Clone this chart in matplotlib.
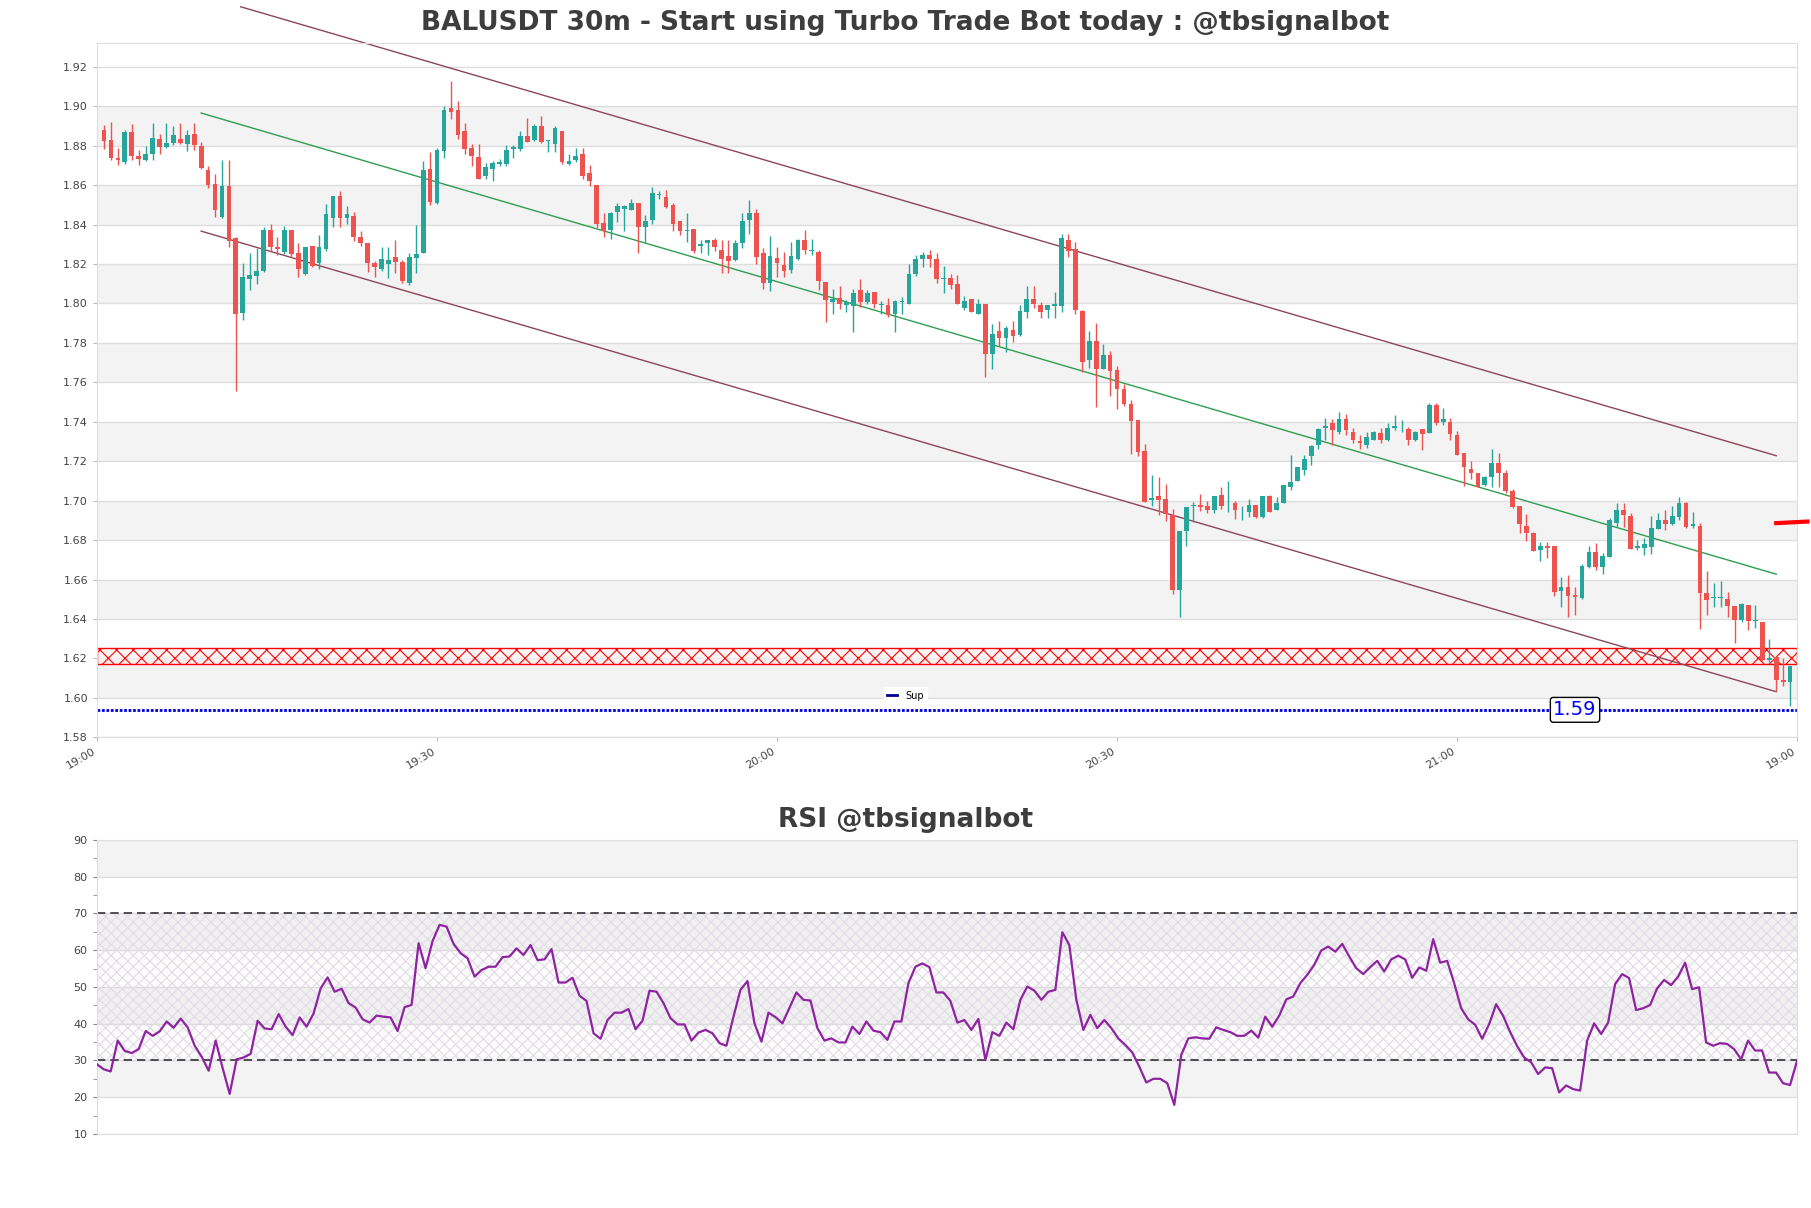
import numpy as np
import matplotlib
matplotlib.use("Agg")
import matplotlib.pyplot as plt
from matplotlib.lines import Line2D

# ---- candle data (30m) ----
opens = [
    1.8878, 1.8830, 1.8740, 1.8720, 1.8870, 1.8746, 1.8730, 1.8760, 1.8836, 1.8793,
    1.8813, 1.8836, 1.8807, 1.8858, 1.8797, 1.8678, 1.8607, 1.8441, 1.8598, 1.8331,
    1.7954, 1.8124, 1.8141, 1.8163, 1.8373, 1.8288, 1.8263, 1.8373, 1.8256, 1.8149,
    1.8292, 1.8203, 1.8276, 1.8432, 1.8547, 1.8432, 1.8446, 1.8339, 1.8308, 1.8205,
    1.8175, 1.8198, 1.8237, 1.8212, 1.8105, 1.8229, 1.8258, 1.8681, 1.8512, 1.8776,
    1.8992, 1.8983, 1.8873, 1.8788, 1.8741, 1.8647, 1.8681, 1.8708, 1.8708, 1.8786,
    1.8783, 1.8851, 1.8827, 1.8902, 1.8825, 1.8810, 1.8873, 1.8707, 1.8729, 1.8759,
    1.8661, 1.8602, 1.8410, 1.8371, 1.8466, 1.8481, 1.8475, 1.8508, 1.8386, 1.8424,
    1.8549, 1.8541, 1.8499, 1.8417, 1.8366, 1.8377, 1.8290, 1.8305, 1.8322, 1.8270,
    1.8240, 1.8223, 1.8307, 1.8422, 1.8460, 1.8257, 1.8104, 1.8231, 1.8197, 1.8172,
    1.8224, 1.8321, 1.8267, 1.8262, 1.8109, 1.8008, 1.8028, 1.7991, 1.7987, 1.8067,
    1.8008, 1.8057, 1.7991, 1.7991, 1.7949, 1.8008, 1.7999, 1.8152, 1.8228, 1.8248,
    1.8228, 1.8126, 1.8128, 1.8097, 1.7977, 1.8021, 1.7948, 1.7999, 1.7742, 1.7859,
    1.7826, 1.7867, 1.7842, 1.7957, 1.8024, 1.7991, 1.7965, 1.7985, 1.7985, 1.8320,
    1.8278, 1.7960, 1.7711, 1.7808, 1.7669, 1.7737, 1.7661, 1.7567, 1.7488, 1.7407,
    1.7251, 1.7004, 1.7026, 1.7006, 1.6925, 1.6547, 1.6845, 1.6972, 1.6979, 1.6975,
    1.6953, 1.7028, 1.6986, 1.6990, 1.6966, 1.6941, 1.6980, 1.6917, 1.7022, 1.6951,
    1.6988, 1.7068, 1.7098, 1.7158, 1.7229, 1.7280, 1.7369, 1.7392, 1.7347, 1.7412,
    1.7349, 1.7305, 1.7281, 1.7310, 1.7341, 1.7310, 1.7369, 1.7367, 1.7361, 1.7310,
    1.7361, 1.7344, 1.7483, 1.7398, 1.7400, 1.7331, 1.7242, 1.7161, 1.7141, 1.7077,
    1.7119, 1.7192, 1.7141, 1.7047, 1.6973, 1.6872, 1.6838, 1.6750, 1.6770, 1.6770,
    1.6544, 1.6561, 1.6522, 1.6505, 1.6666, 1.6742, 1.6666, 1.6716, 1.6889, 1.6953,
    1.6922, 1.6759, 1.6759, 1.6767, 1.6857, 1.6902, 1.6880, 1.6919, 1.6990, 1.6872,
    1.6872, 1.6531, 1.6507, 1.6508, 1.6502, 1.6467, 1.6396, 1.6472, 1.6391, 1.6382,
    1.6193, 1.6205, 1.6092, 1.6078,
]
highs = [
    1.8907, 1.8920, 1.8790, 1.8880, 1.8910, 1.8780, 1.8800, 1.8917, 1.8860, 1.8917,
    1.8900, 1.8917, 1.8878, 1.8918, 1.8819, 1.8695, 1.8658, 1.8729, 1.8729, 1.8339,
    1.8203, 1.8254, 1.8280, 1.8386, 1.8403, 1.8339, 1.8395, 1.8373, 1.8307, 1.8288,
    1.8292, 1.8349, 1.8505, 1.8547, 1.8570, 1.8497, 1.8463, 1.8370, 1.8308, 1.8217,
    1.8285, 1.8288, 1.8322, 1.8220, 1.8258, 1.8398, 1.8725, 1.8770, 1.8788, 1.9003,
    1.9130, 1.9025, 1.8915, 1.8810, 1.8808, 1.8712, 1.8725, 1.8734, 1.8805, 1.8805,
    1.8873, 1.8941, 1.8912, 1.8951, 1.8831, 1.8898, 1.8873, 1.8758, 1.8788, 1.8788,
    1.8703, 1.8602, 1.8458, 1.8466, 1.8508, 1.8500, 1.8529, 1.8508, 1.8447, 1.8590,
    1.8571, 1.8578, 1.8510, 1.8417, 1.8460, 1.8377, 1.8320, 1.8322, 1.8333, 1.8320,
    1.8320, 1.8320, 1.8460, 1.8527, 1.8477, 1.8279, 1.8341, 1.8287, 1.8262, 1.8312,
    1.8329, 1.8372, 1.8329, 1.8270, 1.8109, 1.8076, 1.8088, 1.8016, 1.8076, 1.8126,
    1.8067, 1.8057, 1.8011, 1.8030, 1.8020, 1.8033, 1.8199, 1.8248, 1.8262, 1.8270,
    1.8257, 1.8189, 1.8150, 1.8145, 1.8036, 1.8021, 1.8021, 1.7999, 1.7897, 1.7910,
    1.7884, 1.7910, 1.7991, 1.8087, 1.8087, 1.8008, 1.7991, 1.8058, 1.8354, 1.8354,
    1.8312, 1.7968, 1.7860, 1.7901, 1.7796, 1.7759, 1.7681, 1.7593, 1.7508, 1.7407,
    1.7288, 1.7128, 1.7120, 1.7086, 1.6958, 1.6848, 1.6970, 1.6992, 1.7035, 1.6996,
    1.7026, 1.7067, 1.7100, 1.7000, 1.6975, 1.7008, 1.6980, 1.7025, 1.7031, 1.7019,
    1.7081, 1.7234, 1.7171, 1.7234, 1.7280, 1.7369, 1.7420, 1.7412, 1.7449, 1.7442,
    1.7369, 1.7331, 1.7347, 1.7353, 1.7369, 1.7395, 1.7432, 1.7408, 1.7375, 1.7353,
    1.7361, 1.7493, 1.7493, 1.7471, 1.7420, 1.7353, 1.7242, 1.7200, 1.7141, 1.7125,
    1.7263, 1.7242, 1.7158, 1.7059, 1.6973, 1.6931, 1.6843, 1.6792, 1.6792, 1.6770,
    1.6612, 1.6624, 1.6561, 1.6678, 1.6770, 1.6787, 1.6733, 1.6911, 1.6986, 1.6986,
    1.6936, 1.6801, 1.6809, 1.6922, 1.6939, 1.6953, 1.6973, 1.7017, 1.6995, 1.6944,
    1.6889, 1.6641, 1.6581, 1.6593, 1.6539, 1.6467, 1.6480, 1.6472, 1.6472, 1.6387,
    1.6298, 1.6205, 1.6202, 1.6160,
]
lows = [
    1.8785, 1.8730, 1.8700, 1.8710, 1.8730, 1.8700, 1.8725, 1.8730, 1.8760, 1.8790,
    1.8805, 1.8807, 1.8773, 1.8780, 1.8680, 1.8586, 1.8441, 1.8434, 1.8288, 1.7556,
    1.7915, 1.8070, 1.8098, 1.8158, 1.8260, 1.8247, 1.8251, 1.8234, 1.8132, 1.8146,
    1.8183, 1.8175, 1.8268, 1.8390, 1.8390, 1.8403, 1.8315, 1.8293, 1.8161, 1.8132,
    1.8166, 1.8127, 1.8153, 1.8105, 1.8093, 1.8153, 1.8258, 1.8500, 1.8505, 1.8737,
    1.8936, 1.8834, 1.8759, 1.8698, 1.8631, 1.8631, 1.8619, 1.8695, 1.8698, 1.8737,
    1.8776, 1.8817, 1.8822, 1.8814, 1.8766, 1.8766, 1.8708, 1.8702, 1.8720, 1.8631,
    1.8597, 1.8381, 1.8339, 1.8327, 1.8415, 1.8368, 1.8475, 1.8258, 1.8308, 1.8403,
    1.8532, 1.8485, 1.8368, 1.8346, 1.8312, 1.8257, 1.8257, 1.8245, 1.8267, 1.8155,
    1.8155, 1.8216, 1.8279, 1.8351, 1.8199, 1.8075, 1.8063, 1.8135, 1.8135, 1.8155,
    1.8222, 1.8253, 1.8245, 1.8067, 1.7906, 1.7945, 1.7974, 1.7957, 1.7856, 1.7982,
    1.7996, 1.7979, 1.7949, 1.7932, 1.7856, 1.7949, 1.7999, 1.8138, 1.8185, 1.8185,
    1.8104, 1.8053, 1.8075, 1.7999, 1.7965, 1.7957, 1.7945, 1.7627, 1.7669, 1.7784,
    1.7754, 1.7804, 1.7833, 1.7928, 1.7979, 1.7926, 1.7926, 1.7926, 1.7957, 1.8236,
    1.7948, 1.7652, 1.7674, 1.7474, 1.7669, 1.7533, 1.7466, 1.7482, 1.7238, 1.7225,
    1.6992, 1.6975, 1.6926, 1.6896, 1.6527, 1.6412, 1.6772, 1.6891, 1.6947, 1.6936,
    1.6936, 1.6958, 1.6940, 1.6907, 1.6900, 1.6917, 1.6912, 1.6912, 1.6941, 1.6951,
    1.6988, 1.7056, 1.7098, 1.7129, 1.7183, 1.7263, 1.7310, 1.7281, 1.7336, 1.7331,
    1.7293, 1.7263, 1.7268, 1.7310, 1.7293, 1.7302, 1.7358, 1.7347, 1.7280, 1.7302,
    1.7259, 1.7341, 1.7386, 1.7386, 1.7310, 1.7231, 1.7076, 1.7110, 1.7069, 1.7076,
    1.7069, 1.7069, 1.7039, 1.6963, 1.6838, 1.6797, 1.6747, 1.6696, 1.6708, 1.6517,
    1.6463, 1.6409, 1.6418, 1.6500, 1.6657, 1.6646, 1.6629, 1.6716, 1.6868, 1.6868,
    1.6755, 1.6750, 1.6725, 1.6728, 1.6855, 1.6851, 1.6877, 1.6902, 1.6860, 1.6860,
    1.6349, 1.6418, 1.6463, 1.6460, 1.6409, 1.6278, 1.6387, 1.6345, 1.6354, 1.6185,
    1.6180, 1.6033, 1.6058, 1.5957,
]
closes = [
    1.8824, 1.8740, 1.8730, 1.8870, 1.8750, 1.8733, 1.8756, 1.8837, 1.8794, 1.8815,
    1.8857, 1.8813, 1.8856, 1.8805, 1.8686, 1.8603, 1.8475, 1.8598, 1.8315, 1.7946,
    1.8136, 1.8146, 1.8166, 1.8373, 1.8285, 1.8275, 1.8373, 1.8251, 1.8175, 1.8288,
    1.8188, 1.8288, 1.8454, 1.8547, 1.8432, 1.8454, 1.8336, 1.8305, 1.8205, 1.8183,
    1.8225, 1.8220, 1.8208, 1.8115, 1.8237, 1.8249, 1.8678, 1.8517, 1.8780, 1.8983,
    1.8970, 1.8856, 1.8783, 1.8746, 1.8631, 1.8692, 1.8712, 1.8717, 1.8780, 1.8793,
    1.8851, 1.8817, 1.8902, 1.8817, 1.8831, 1.8890, 1.8720, 1.8724, 1.8749, 1.8647,
    1.8619, 1.8403, 1.8369, 1.8458, 1.8492, 1.8492, 1.8512, 1.8386, 1.8417, 1.8560,
    1.8554, 1.8490, 1.8405, 1.8368, 1.8372, 1.8267, 1.8300, 1.8320, 1.8287, 1.8224,
    1.8216, 1.8309, 1.8417, 1.8460, 1.8236, 1.8104, 1.8240, 1.8206, 1.8165, 1.8240,
    1.8321, 1.8273, 1.8270, 1.8114, 1.8016, 1.8025, 1.7996, 1.8008, 1.8055, 1.8008,
    1.8055, 1.7996, 1.7999, 1.7943, 1.8011, 1.8011, 1.8148, 1.8228, 1.8248, 1.8228,
    1.8126, 1.8130, 1.8092, 1.7999, 1.8011, 1.7957, 1.7999, 1.7742, 1.7847, 1.7825,
    1.7877, 1.7835, 1.7960, 1.8021, 1.7996, 1.7957, 1.7991, 1.7999, 1.8332, 1.8266,
    1.7965, 1.7703, 1.7808, 1.7669, 1.7737, 1.7657, 1.7564, 1.7491, 1.7402, 1.7246,
    1.6992, 1.7014, 1.7004, 1.6930, 1.6547, 1.6848, 1.6970, 1.6979, 1.6967, 1.6955,
    1.7026, 1.6975, 1.6990, 1.6952, 1.6970, 1.6980, 1.6917, 1.7022, 1.6941, 1.6988,
    1.7081, 1.7093, 1.7171, 1.7212, 1.7276, 1.7361, 1.7381, 1.7356, 1.7412, 1.7358,
    1.7310, 1.7293, 1.7324, 1.7349, 1.7310, 1.7369, 1.7378, 1.7371, 1.7310, 1.7349,
    1.7339, 1.7483, 1.7395, 1.7412, 1.7336, 1.7231, 1.7171, 1.7141, 1.7069, 1.7120,
    1.7192, 1.7141, 1.7047, 1.6970, 1.6880, 1.6838, 1.6747, 1.6770, 1.6759, 1.6539,
    1.6561, 1.6517, 1.6510, 1.6671, 1.6742, 1.6662, 1.6720, 1.6902, 1.6953, 1.6927,
    1.6755, 1.6770, 1.6781, 1.6860, 1.6902, 1.6880, 1.6922, 1.6990, 1.6868, 1.6882,
    1.6531, 1.6497, 1.6509, 1.6510, 1.6467, 1.6396, 1.6475, 1.6392, 1.6393, 1.6193,
    1.6202, 1.6089, 1.6080, 1.6160,
]

# ---- RSI values ----
rsi = [
    29.0, 27.6, 27.0, 35.4, 32.6, 32.0, 33.1, 38.0, 36.7, 37.9,
    40.6, 38.9, 41.4, 39.0, 34.0, 31.0, 27.2, 35.4, 27.9, 20.9,
    30.3, 30.8, 31.8, 40.8, 38.7, 38.5, 42.6, 39.2, 36.9, 41.7,
    39.2, 42.8, 49.6, 52.6, 48.7, 49.5, 45.6, 44.4, 41.2, 40.3,
    42.2, 41.9, 41.7, 38.0, 44.5, 45.1, 61.9, 55.1, 62.5, 66.9,
    66.4, 61.7, 59.2, 57.8, 52.8, 54.6, 55.5, 55.5, 58.1, 58.3,
    60.5, 58.7, 61.4, 57.3, 57.5, 60.3, 51.2, 51.2, 52.5, 47.6,
    46.2, 37.4, 35.9, 41.0, 43.0, 43.0, 44.0, 38.5, 40.8, 49.0,
    48.7, 45.6, 41.5, 39.8, 39.8, 35.4, 37.6, 38.3, 37.4, 34.7,
    34.0, 41.9, 49.2, 51.6, 40.1, 35.1, 43.0, 41.8, 40.1, 44.3,
    48.5, 46.5, 46.3, 38.8, 35.4, 36.0, 34.9, 34.9, 39.2, 37.2,
    40.6, 38.1, 37.7, 35.6, 40.6, 40.6, 51.0, 55.5, 56.4, 55.4,
    48.5, 48.5, 46.2, 40.3, 41.0, 38.3, 41.3, 30.1, 37.7, 36.7,
    40.3, 38.5, 46.5, 50.1, 49.0, 46.5, 48.7, 49.2, 64.9, 61.4,
    46.5, 38.3, 42.4, 38.8, 41.0, 38.8, 36.0, 34.2, 32.2, 28.3,
    24.0, 25.0, 25.0, 23.8, 17.9, 31.5, 36.0, 36.3, 36.0, 35.9,
    39.0, 38.3, 37.7, 36.7, 36.7, 38.1, 36.2, 41.9, 39.2, 42.2,
    46.6, 47.4, 51.0, 53.3, 56.0, 59.9, 61.0, 59.6, 61.7, 58.3,
    55.1, 53.5, 55.4, 57.1, 54.2, 57.5, 58.5, 57.5, 52.5, 55.3,
    54.4, 63.0, 56.6, 57.1, 51.0, 44.2, 41.2, 39.7, 35.9, 39.9,
    45.3, 42.1, 37.7, 33.9, 30.8, 29.5, 26.3, 28.1, 27.9, 21.3,
    23.2, 22.2, 21.8, 35.4, 40.1, 37.2, 40.3, 50.8, 53.5, 52.4,
    43.7, 44.2, 45.1, 49.6, 51.9, 50.5, 52.8, 56.6, 49.4, 49.9,
    34.9, 34.0, 34.7, 34.5, 33.1, 30.3, 35.4, 32.7, 32.7, 26.7,
    26.7, 23.8, 23.3, 29.9,
]

tick_labels = ["19:00", "19:30", "20:00", "20:30", "21:00", "19:00"]

# channel lines (start / end in candle index and price)
upper_x = [19.7, 241]
upper_y = [1.9505, 1.7228]
channel_x = [14, 241]
channel_mid = [1.8966, 1.6627]
channel_lower = [1.8367, 1.6031]

sup_level = 1.5939
zone_low, zone_high = 1.6172, 1.6253
mark_x = [241, 245.5]
mark_y = [1.6886, 1.6894]

UP, DOWN = "#26a69a", "#ef5350"
GRID, BAND = "#dedede", "#f3f3f3"
TXT = "#3d3d3d"

o = np.array(opens)
h = np.array(highs)
l = np.array(lows)
c = np.array(closes)
x = np.arange(len(o))
cols = np.where(c >= o, UP, DOWN)

fig = plt.figure(figsize=(18.11, 12.08), dpi=100)
ax = fig.add_axes([0.0536, 0.3897, 0.9387, 0.5745])
ax2 = fig.add_axes([0.0534, 0.0613, 0.9389, 0.2434])

# ==========================================
# price panel
# ==========================================
for lo in np.arange(1.60, 1.89, 0.04):
    ax.axhspan(lo, lo + 0.02, color=BAND, lw=0, zorder=0)
for yv in np.arange(1.58, 1.93, 0.02):
    ax.axhline(yv, color=GRID, lw=1, zorder=0.5)

plt.rcParams["hatch.linewidth"] = 0.8
ax.fill_between([-1, 244], zone_low, zone_high, facecolor=(1, 0.95, 0.95, 0.6),
                edgecolor="red", hatch="xx", lw=1, zorder=1)

ax.vlines(x, l, h, colors=cols, lw=1, zorder=3)
body_lo = np.minimum(o, c)
body_h = np.maximum(np.abs(c - o), 0.0004)
ax.bar(x, body_h, bottom=body_lo, width=0.68, color=cols, lw=0, zorder=4)

ax.plot(upper_x, upper_y, color="#8c4659", lw=1, clip_on=False, zorder=2)
ax.plot(channel_x, channel_lower, color="#8c4659", lw=1, clip_on=False, zorder=2)
ax.plot(channel_x, channel_mid, color="#2e9e4f", lw=1, clip_on=False, zorder=2)

ax.plot([-1, 244], [sup_level, sup_level], color="#0000dd",
        ls=(0, (1, 0.6)), lw=2, zorder=2)
ax.text(212, sup_level, "1.59", color="blue", fontsize=14, ha="center", va="center",
        bbox=dict(boxstyle="round,pad=0.15", fc="white", ec="black", lw=1), zorder=5)

ax.plot(mark_x, mark_y, color="red", lw=3, clip_on=False, zorder=5)

ax.set_xlim(-1, 244)
ax.set_ylim(1.58, 1.932)
ax.set_yticks(np.arange(1.58, 1.93, 0.02))
ax.set_yticklabels([f"{v:.2f}" for v in np.arange(1.58, 1.93, 0.02)])
ax.set_xticks(np.linspace(-1, 244, 6))
ax.set_xticklabels(tick_labels, rotation=30, ha="right")
ax.tick_params(axis="both", labelsize=8, colors="#444444", length=3, color="#bbbbbb")
for s in ax.spines.values():
    s.set_color(GRID)

sup_handle = Line2D([], [], color="#000099", lw=2)
fig.legend(handles=[sup_handle], labels=["Sup"], loc="center", bbox_to_anchor=(0.5, 0.424),
           fontsize=7, frameon=True, framealpha=1, edgecolor="white", handlelength=1.0)

fig.text(0.5, 0.981, "BALUSDT 30m - Start using Turbo Trade Bot today : @tbsignalbot",
         ha="center", va="center", fontsize=19, fontweight="bold", color=TXT)

# ==========================================
# RSI panel
# ==========================================
xr = np.arange(len(rsi))
for lo in [20, 40, 60, 80]:
    ax2.axhspan(lo, lo + 10, color=BAND, lw=0, zorder=0)
for yv in range(10, 91, 10):
    ax2.axhline(yv, color=GRID, lw=1, zorder=0.5)
ax2.fill_between([0, len(rsi) - 1], 30, 70, facecolor=(0.6, 0.5, 0.7, 0.025),
                 edgecolor="#e2dbe6", hatch="xxx", lw=0, zorder=1)
ax2.axhline(70, color="#333333", lw=1.2, ls=(0, (5, 3)), zorder=2)
ax2.axhline(30, color="#333333", lw=1.2, ls=(0, (5, 3)), zorder=2)
ax2.plot(xr, rsi, color="#8e24a0", lw=1.6, zorder=3)

ax2.set_xlim(0, len(rsi) - 1)
ax2.set_ylim(10, 90)
ax2.set_yticks(range(10, 91, 10))
ax2.set_yticks(range(15, 90, 10), minor=True)
ax2.set_xticks([])
ax2.tick_params(axis="y", which="both", labelsize=8, colors="#444444", length=3, color="#888888")
for s in ax2.spines.values():
    s.set_color(GRID)

fig.text(0.5, 0.3212, "RSI @tbsignalbot", ha="center", va="center",
         fontsize=19, fontweight="bold", color=TXT)

fig.savefig("out.png", dpi=100)
